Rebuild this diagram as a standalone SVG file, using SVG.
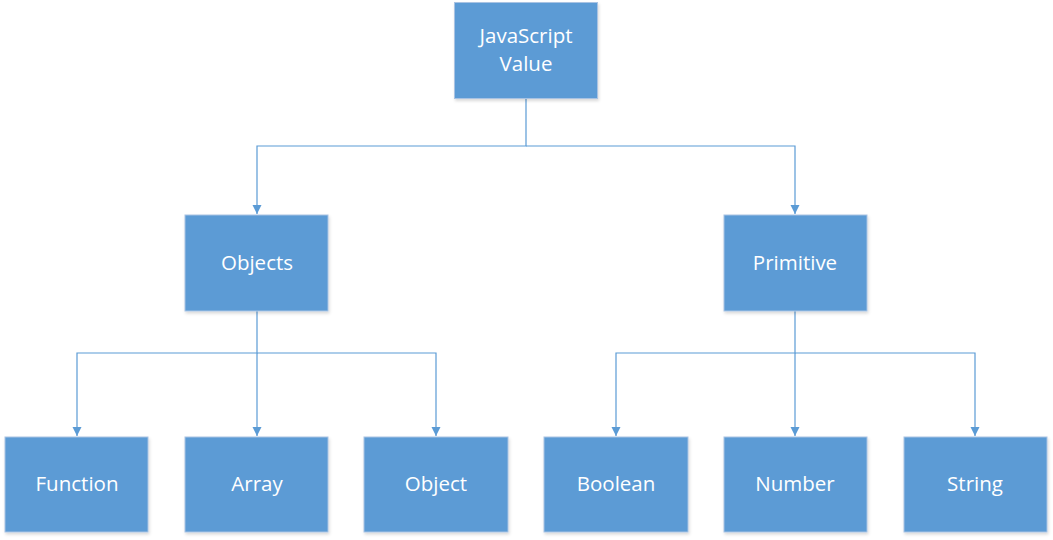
<svg xmlns="http://www.w3.org/2000/svg" width="1053" height="540" viewBox="0 0 1053 540">
<defs>
<marker id="arr" viewBox="0 0 10 10" refX="10" refY="5" markerWidth="9" markerHeight="10" markerUnits="userSpaceOnUse" orient="auto">
<path d="M0,0 L10,5 L0,10 Z" fill="#5B9BD5"/>
</marker>
<filter id="sh" x="-10%" y="-10%" width="130%" height="130%">
<feDropShadow dx="1" dy="2" stdDeviation="1.5" flood-color="#000" flood-opacity="0.15"/>
</filter>
</defs>
<style>
.box{fill:#5B9BD5;stroke:#A9C3E3;stroke-width:1;filter:url(#sh)}
.t{font-family:"Open Sans","Liberation Sans",sans-serif;font-size:20.5px;fill:#fff;text-anchor:middle}
.c{fill:none;stroke:#5B9BD5;stroke-width:1.2}
</style>
<rect width="1053" height="540" fill="#fff"/>
<g id="connectors">
<path class="c" d="M526,98 V146 H257 V214" marker-end="url(#arr)"/>
<path class="c" d="M526,146 H795 V214" marker-end="url(#arr)"/>
<path class="c" d="M257,311 V353 H77 V436" marker-end="url(#arr)"/>
<path class="c" d="M257,353 V436" marker-end="url(#arr)"/>
<path class="c" d="M257,353 H436 V436" marker-end="url(#arr)"/>
<path class="c" d="M795,311 V353 H616 V436" marker-end="url(#arr)"/>
<path class="c" d="M795,353 V436" marker-end="url(#arr)"/>
<path class="c" d="M795,353 H975 V436" marker-end="url(#arr)"/>
</g>
<g id="n-jsvalue"><rect class="box" x="454.5" y="2.5" width="143" height="96"/><text class="t" x="526" y="43">JavaScript</text><text class="t" x="526" y="71">Value</text></g>
<g id="n-objects"><rect class="box" x="185" y="215" width="143" height="96"/><text class="t" x="257" y="270">Objects</text></g>
<g id="n-primitive"><rect class="box" x="724" y="215" width="143" height="96"/><text class="t" x="795" y="270">Primitive</text></g>
<g id="n-function"><rect class="box" x="5" y="437" width="143" height="95"/><text class="t" x="77" y="491">Function</text></g>
<g id="n-array"><rect class="box" x="185" y="437" width="143" height="95"/><text class="t" x="257" y="491">Array</text></g>
<g id="n-object"><rect class="box" x="364" y="437" width="144" height="95"/><text class="t" x="436" y="491">Object</text></g>
<g id="n-boolean"><rect class="box" x="544" y="437" width="144" height="95"/><text class="t" x="616" y="491">Boolean</text></g>
<g id="n-number"><rect class="box" x="724" y="437" width="143" height="95"/><text class="t" x="795" y="491">Number</text></g>
<g id="n-string"><rect class="box" x="904" y="437" width="143" height="95"/><text class="t" x="975" y="491">String</text></g>
</svg>
